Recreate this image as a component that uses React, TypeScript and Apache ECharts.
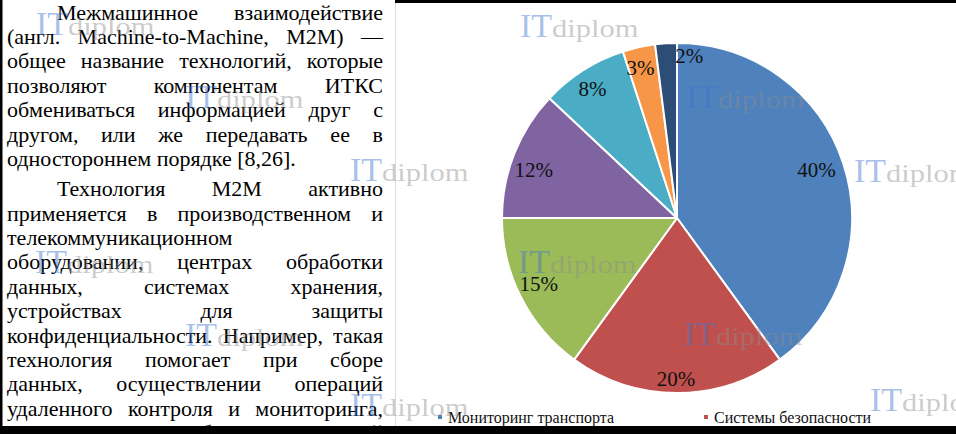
import React, { useEffect, useRef } from "react";
import * as echarts from "echarts";

// ---- data ----
const categories = [
  "Мониторинг транспорта",
  "Системы безопасности",
  "Промышленность",
  "Энергетика",
  "Здравоохранение",
  "Торговля",
  "Прочее",
];
const shares = [40, 20, 15, 12, 8, 3, 2];
const sliceColors = ["#4F81BD", "#C0504D", "#9BBB59", "#8064A2", "#4BACC6", "#F79646", "#2C4D75"];
const legendItems = ["Мониторинг транспорта", "Системы безопасности"];
const labelOffsets: [number, number][] = [[-7, 0], [-1, 7], [-1, -4], [0, 9], [-2, 1], [-3, 0], [22, -8]];

const paragraph1 = [
  "Межмашинное взаимодействие",
  "(англ. Machine-to-Machine, M2M) —",
  "общее название технологий, которые",
  "позволяют компонентам ИТКС",
  "обмениваться информацией друг с",
  "другом, или же передавать ее в",
  "одностороннем порядке [8,26].",
];
const paragraph2 = [
  "Технология M2M активно",
  "применяется в производственном и",
  "телекоммуникационном",
  "оборудовании, центрах обработки",
  "данных, системах хранения,",
  "устройствах для защиты",
  "конфиденциальности. Например, такая",
  "технология помогает при сборе",
  "данных, осуществлении операций",
  "удаленного контроля и мониторинга,",
  "использовании роботов удаленной",
];
const leftAlignedLines = ["одностороннем порядке [8,26].", "телекоммуникационном"];

const SERIF = "'Liberation Serif', 'Times New Roman', 'DejaVu Serif', serif";

export default function App() {
  const ref = useRef<HTMLDivElement>(null);
  useEffect(() => {
    if (!ref.current) return;
    const canvas = document.createElement("canvas");
    const ctx = canvas.getContext("2d")!;
    const measure = (t: string, size: number) => {
      ctx.font = `${size}px ${SERIF}`;
      return ctx.measureText(t).width;
    };

    const graphics: any[] = [];
    const FS = 22;
    const L = 7, R = 383, INDENT = 57;
    const addLine = (line: string, baseline: number, first: boolean) => {
      const y = baseline - 0.3375 * FS;
      const x0 = first ? INDENT : L;
      const words = line.split(" ");
      const widths = words.map((w) => measure(w, FS));
      const total = widths.reduce((a, b) => a + b, 0);
      const justify = !leftAlignedLines.includes(line) && words.length > 1;
      const gap = justify ? (R - x0 - total) / (words.length - 1) : measure(" ", FS);
      let x = x0;
      words.forEach((w, i) => {
        graphics.push({
          type: "text",
          x,
          y,
          z: 10,
          silent: true,
          style: { text: w, font: `${FS}px ${SERIF}`, fill: "#000", align: "left", verticalAlign: "middle" },
        });
        x += widths[i] + gap;
      });
    };
    paragraph1.forEach((l, i) => addLine(l, 19.5 + 24.4 * i, i === 0));
    paragraph2.forEach((l, i) => addLine(l, 196.2 + 24.4 * i, i === 0));

    // separator line
    graphics.push({ type: "line", z: 5, silent: true, shape: { x1: 395.5, y1: 0, x2: 395.5, y2: 434 }, style: { stroke: "#dcdcdc", lineWidth: 1 } });

    // watermarks
    const marks: [number, number][] = [
      [36, 35], [520, 37], [185, 108], [686, 108], [350, 181], [854, 182],
      [35, 273], [518, 273], [185, 346], [684, 345], [350, 416], [870, 411],
    ];
    const IT_FS = 34, DP_FS = 25;
    const itW = measure("IT", IT_FS);
    marks.forEach(([mx, my]) => {
      graphics.push({
        type: "text", x: mx, y: my - 0.3375 * IT_FS, z: 100, silent: true,
        style: { text: "IT", font: `${IT_FS}px ${SERIF}`, fill: "rgba(60,115,205,0.45)", align: "left", verticalAlign: "middle" },
      });
      graphics.push({
        type: "text", x: mx + itW, y: my - 0.3375 * DP_FS, scaleX: 1.22, z: 100, silent: true,
        style: { text: "diplom", font: `${DP_FS}px ${SERIF}`, fill: "rgba(140,140,140,0.45)", align: "left", verticalAlign: "middle" },
      });
    });

    // frame bands
    graphics.push({ type: "rect", z: 200, silent: true, shape: { x: 0, y: 0, width: 2.5, height: 434 }, style: { fill: "#000" } });
    graphics.push({ type: "rect", z: 200, silent: true, shape: { x: 395, y: 0, width: 561, height: 3 }, style: { fill: "#000" } });
    graphics.push({ type: "rect", z: 200, silent: true, shape: { x: 0, y: 426, width: 956, height: 8 }, style: { fill: "#000" } });

    const pieData = categories.map((name, i) => ({ name, value: shares[i], itemStyle: { color: sliceColors[i] } }));
    const labelData = categories.map((name, i) => ({
      name,
      value: shares[i],
      label: { offset: labelOffsets[i] },
    }));

    const chart = echarts.init(ref.current, null, { renderer: "svg" });
    chart.setOption({
      animation: false,
      backgroundColor: "#fff",
      legend: {
        data: legendItems,
        left: 436,
        top: 409,
        padding: 0,
        itemWidth: 6,
        itemHeight: 6,
        itemGap: 88,
        icon: "rect",
        selectedMode: false,
        textStyle: { fontFamily: SERIF, fontSize: 16, color: "#111" },
      },
      series: [
        {
          type: "pie",
          center: [677, 218],
          radius: 175,
          startAngle: 90,
          clockwise: true,
          silent: true,
          data: pieData,
          label: { show: false },
          labelLine: { show: false },
          itemStyle: { borderColor: "#fff", borderWidth: 2 },
          emphasis: { disabled: true },
        },
        {
          type: "pie",
          center: [677, 218],
          radius: [126, 176],
          startAngle: 90,
          clockwise: true,
          silent: true,
          data: labelData,
          itemStyle: { color: "rgba(0,0,0,0)", borderWidth: 0 },
          label: { show: true, position: "inside", formatter: "{c}%", fontFamily: SERIF, fontSize: 21, color: "#111" },
          labelLine: { show: false },
          emphasis: { disabled: true },
        },
      ],
      graphic: { elements: graphics },
    });
    return () => chart.dispose();
  }, []);
  return <div ref={ref} style={{ position: "absolute", left: 0, top: 0, width: 956, height: 434 }} />;
}
